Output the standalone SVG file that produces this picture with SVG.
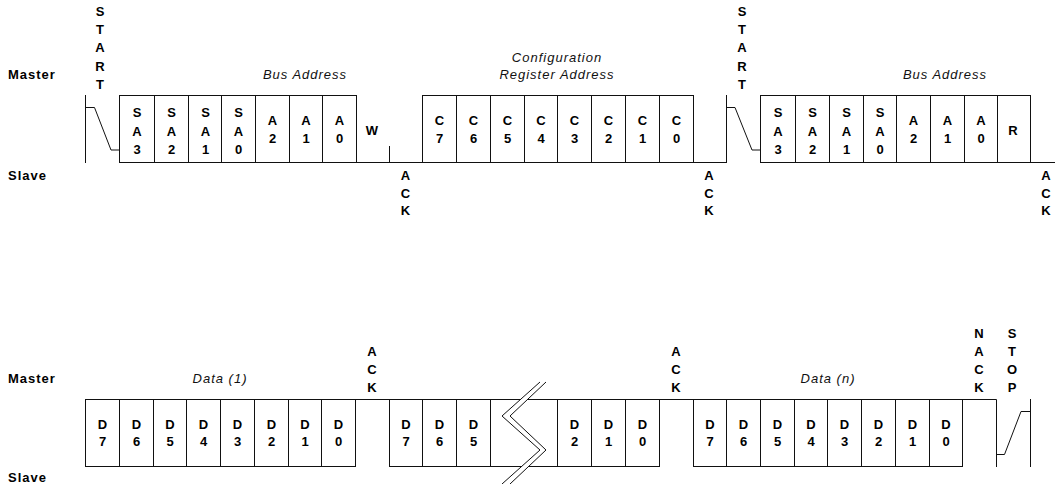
<svg xmlns="http://www.w3.org/2000/svg" width="1055" height="484" viewBox="0 0 1055 484">
<style>
.bg{fill:#fff}
.cell{fill:#fff;stroke:#111;stroke-width:1}
.w{fill:none;stroke:#111;stroke-width:1}
.t{font-family:"Liberation Sans",Arial,sans-serif;font-weight:bold;font-size:13px;fill:#000;text-anchor:middle}
.lbl{font-family:"Liberation Sans",Arial,sans-serif;font-weight:bold;font-size:13px;letter-spacing:1px;fill:#000}
.it{font-family:"Liberation Sans",Arial,sans-serif;font-style:italic;font-size:13px;letter-spacing:1px;fill:#111;text-anchor:middle}
</style>
<rect class="bg" x="0" y="0" width="1055" height="484"/>

<!-- side labels -->
<g id="labels">
<text class="lbl" x="8" y="79.3">Master</text>
<text class="lbl" x="8" y="180">Slave</text>
<text class="lbl" x="8" y="383.3">Master</text>
<text class="lbl" x="8" y="482">Slave</text>
<text class="it" x="305" y="79.3">Bus Address</text>
<text class="it" x="945" y="79.3">Bus Address</text>
<text class="it" x="557" y="61.7">Configuration</text>
<text class="it" x="557" y="79.3">Register Address</text>
<text class="it" x="220" y="383">Data (1)</text>
<text class="it" x="828" y="383">Data (n)</text>
</g>

<!-- connectors / waveform -->
<g id="connectors" class="w">
<path d="M85.5,95 V163 M85.5,107.5 H94.5 L111,150 H119.5"/>
<path d="M356.5,162.5 H422.5 M389.5,146 V162.5"/>
<path d="M693.5,162.5 H726.5 M726.5,95 V163 M726.5,107.5 H735 L752,150 H760.5"/>
<path d="M1030.5,162.5 H1055"/>
<path d="M355.5,399.5 H389.5"/>
<path d="M659.5,399.5 H693.5"/>
<path d="M962.5,399.5 H996.5 V467"/>
<path d="M996.5,454.5 H1004.5 L1021,411.5 H1030.5 M1030.5,399 V467"/>
</g>

<!-- condition labels -->
<g id="start1"><text class="t"><tspan x="100" y="15.7">S</tspan><tspan x="100" y="34">T</tspan><tspan x="100" y="52.4">A</tspan><tspan x="100" y="70.7">R</tspan><tspan x="100" y="89">T</tspan></text></g>
<g id="start2"><text class="t"><tspan x="742" y="15.7">S</tspan><tspan x="742" y="34">T</tspan><tspan x="742" y="52.4">A</tspan><tspan x="742" y="70.7">R</tspan><tspan x="742" y="89">T</tspan></text></g>
<g id="ack1"><text class="t"><tspan x="405.5" y="180.4">A</tspan><tspan x="405.5" y="197.9">C</tspan><tspan x="405.5" y="215.4">K</tspan></text></g>
<g id="ack2"><text class="t"><tspan x="709" y="180.4">A</tspan><tspan x="709" y="197.9">C</tspan><tspan x="709" y="215.4">K</tspan></text></g>
<g id="ack3"><text class="t"><tspan x="1046" y="180.4">A</tspan><tspan x="1046" y="197.9">C</tspan><tspan x="1046" y="215.4">K</tspan></text></g>
<g id="w"><text class="t" x="372" y="134.7">W</text></g>
<g id="ack4"><text class="t"><tspan x="372" y="356.4">A</tspan><tspan x="372" y="374">C</tspan><tspan x="372" y="392.4">K</tspan></text></g>
<g id="ack5"><text class="t"><tspan x="676" y="356.4">A</tspan><tspan x="676" y="374">C</tspan><tspan x="676" y="392.4">K</tspan></text></g>
<g id="nack"><text class="t"><tspan x="979" y="338">N</tspan><tspan x="979" y="356.4">A</tspan><tspan x="979" y="374">C</tspan><tspan x="979" y="392.4">K</tspan></text></g>
<g id="stop"><text class="t"><tspan x="1012" y="338">S</tspan><tspan x="1012" y="356.4">T</tspan><tspan x="1012" y="374">O</tspan><tspan x="1012" y="392.4">P</tspan></text></g>

<!-- Bus address 1 -->
<g id="sa3a"><rect class="cell" x="119.5" y="95.5" width="35" height="67"/><text class="t"><tspan x="137" y="117.2">S</tspan><tspan x="137" y="135.7">A</tspan><tspan x="137" y="154.2">3</tspan></text></g>
<g id="sa2a"><rect class="cell" x="154.5" y="95.5" width="34" height="67"/><text class="t"><tspan x="171.5" y="117.2">S</tspan><tspan x="171.5" y="135.7">A</tspan><tspan x="171.5" y="154.2">2</tspan></text></g>
<g id="sa1a"><rect class="cell" x="188.5" y="95.5" width="33" height="67"/><text class="t"><tspan x="205.5" y="117.2">S</tspan><tspan x="205.5" y="135.7">A</tspan><tspan x="205.5" y="154.2">1</tspan></text></g>
<g id="sa0a"><rect class="cell" x="221.5" y="95.5" width="34" height="67"/><text class="t"><tspan x="238.5" y="117.2">S</tspan><tspan x="238.5" y="135.7">A</tspan><tspan x="238.5" y="154.2">0</tspan></text></g>
<g id="a2a"><rect class="cell" x="255.5" y="95.5" width="34" height="67"/><text class="t"><tspan x="272.5" y="124.9">A</tspan><tspan x="272.5" y="142.5">2</tspan></text></g>
<g id="a1a"><rect class="cell" x="289.5" y="95.5" width="33" height="67"/><text class="t"><tspan x="306" y="124.9">A</tspan><tspan x="306" y="142.5">1</tspan></text></g>
<g id="a0a"><rect class="cell" x="322.5" y="95.5" width="34" height="67"/><text class="t"><tspan x="339.5" y="124.9">A</tspan><tspan x="339.5" y="142.5">0</tspan></text></g>

<!-- Configuration register -->
<g id="c7"><rect class="cell" x="422.5" y="95.5" width="34" height="67"/><text class="t"><tspan x="439.5" y="124.9">C</tspan><tspan x="439.5" y="142.5">7</tspan></text></g>
<g id="c6"><rect class="cell" x="456.5" y="95.5" width="34" height="67"/><text class="t"><tspan x="473.5" y="124.9">C</tspan><tspan x="473.5" y="142.5">6</tspan></text></g>
<g id="c5"><rect class="cell" x="490.5" y="95.5" width="34" height="67"/><text class="t"><tspan x="507.5" y="124.9">C</tspan><tspan x="507.5" y="142.5">5</tspan></text></g>
<g id="c4"><rect class="cell" x="524.5" y="95.5" width="33" height="67"/><text class="t"><tspan x="541" y="124.9">C</tspan><tspan x="541" y="142.5">4</tspan></text></g>
<g id="c3"><rect class="cell" x="557.5" y="95.5" width="34" height="67"/><text class="t"><tspan x="574.5" y="124.9">C</tspan><tspan x="574.5" y="142.5">3</tspan></text></g>
<g id="c2"><rect class="cell" x="591.5" y="95.5" width="34" height="67"/><text class="t"><tspan x="608.5" y="124.9">C</tspan><tspan x="608.5" y="142.5">2</tspan></text></g>
<g id="c1"><rect class="cell" x="625.5" y="95.5" width="34" height="67"/><text class="t"><tspan x="642.5" y="124.9">C</tspan><tspan x="642.5" y="142.5">1</tspan></text></g>
<g id="c0"><rect class="cell" x="659.5" y="95.5" width="34" height="67"/><text class="t"><tspan x="676.5" y="124.9">C</tspan><tspan x="676.5" y="142.5">0</tspan></text></g>

<!-- Bus address 2 -->
<g id="sa3b"><rect class="cell" x="760.5" y="95.5" width="35" height="67"/><text class="t"><tspan x="778" y="117.2">S</tspan><tspan x="778" y="135.7">A</tspan><tspan x="778" y="154.2">3</tspan></text></g>
<g id="sa2b"><rect class="cell" x="795.5" y="95.5" width="34" height="67"/><text class="t"><tspan x="812.5" y="117.2">S</tspan><tspan x="812.5" y="135.7">A</tspan><tspan x="812.5" y="154.2">2</tspan></text></g>
<g id="sa1b"><rect class="cell" x="829.5" y="95.5" width="34" height="67"/><text class="t"><tspan x="846.5" y="117.2">S</tspan><tspan x="846.5" y="135.7">A</tspan><tspan x="846.5" y="154.2">1</tspan></text></g>
<g id="sa0b"><rect class="cell" x="863.5" y="95.5" width="33" height="67"/><text class="t"><tspan x="880" y="117.2">S</tspan><tspan x="880" y="135.7">A</tspan><tspan x="880" y="154.2">0</tspan></text></g>
<g id="a2b"><rect class="cell" x="896.5" y="95.5" width="34" height="67"/><text class="t"><tspan x="913.5" y="124.9">A</tspan><tspan x="913.5" y="142.5">2</tspan></text></g>
<g id="a1b"><rect class="cell" x="930.5" y="95.5" width="34" height="67"/><text class="t"><tspan x="947.5" y="124.9">A</tspan><tspan x="947.5" y="142.5">1</tspan></text></g>
<g id="a0b"><rect class="cell" x="964.5" y="95.5" width="33" height="67"/><text class="t"><tspan x="981" y="124.9">A</tspan><tspan x="981" y="142.5">0</tspan></text></g>
<g id="r"><rect class="cell" x="997.5" y="95.5" width="33" height="67"/><text class="t" x="1013" y="134.7">R</text></g>

<!-- Data (1) -->
<g id="d7a"><rect class="cell" x="85.5" y="399.5" width="34" height="67"/><text class="t"><tspan x="102.5" y="428.7">D</tspan><tspan x="102.5" y="446.4">7</tspan></text></g>
<g id="d6a"><rect class="cell" x="119.5" y="399.5" width="34" height="67"/><text class="t"><tspan x="136.5" y="428.7">D</tspan><tspan x="136.5" y="446.4">6</tspan></text></g>
<g id="d5a"><rect class="cell" x="153.5" y="399.5" width="33" height="67"/><text class="t"><tspan x="170" y="428.7">D</tspan><tspan x="170" y="446.4">5</tspan></text></g>
<g id="d4a"><rect class="cell" x="186.5" y="399.5" width="34" height="67"/><text class="t"><tspan x="203.5" y="428.7">D</tspan><tspan x="203.5" y="446.4">4</tspan></text></g>
<g id="d3a"><rect class="cell" x="220.5" y="399.5" width="34" height="67"/><text class="t"><tspan x="237.5" y="428.7">D</tspan><tspan x="237.5" y="446.4">3</tspan></text></g>
<g id="d2a"><rect class="cell" x="254.5" y="399.5" width="34" height="67"/><text class="t"><tspan x="271.5" y="428.7">D</tspan><tspan x="271.5" y="446.4">2</tspan></text></g>
<g id="d1a"><rect class="cell" x="288.5" y="399.5" width="33" height="67"/><text class="t"><tspan x="305" y="428.7">D</tspan><tspan x="305" y="446.4">1</tspan></text></g>
<g id="d0a"><rect class="cell" x="321.5" y="399.5" width="34" height="67"/><text class="t"><tspan x="338.5" y="428.7">D</tspan><tspan x="338.5" y="446.4">0</tspan></text></g>

<!-- Data (2..n-1) -->
<g id="d7b"><rect class="cell" x="389.5" y="399.5" width="33" height="67"/><text class="t"><tspan x="406" y="428.7">D</tspan><tspan x="406" y="446.4">7</tspan></text></g>
<g id="d6b"><rect class="cell" x="422.5" y="399.5" width="34" height="67"/><text class="t"><tspan x="439.5" y="428.7">D</tspan><tspan x="439.5" y="446.4">6</tspan></text></g>
<g id="d5b"><rect class="cell" x="456.5" y="399.5" width="34" height="67"/><text class="t"><tspan x="473.5" y="428.7">D</tspan><tspan x="473.5" y="446.4">5</tspan></text></g>
<g id="gap"><rect class="cell" x="490.5" y="399.5" width="67" height="67"/>
<polygon fill="#fff" points="540,382 502,416 540,450 502,484 510,484 546,450 510,416 546,382"/>
<polyline class="w" points="540,382 502,416 540,450 502,484"/>
<polyline class="w" points="546,382 510,416 546,450 510,484"/></g>
<g id="d2b"><rect class="cell" x="557.5" y="399.5" width="34" height="67"/><text class="t"><tspan x="574.5" y="428.7">D</tspan><tspan x="574.5" y="446.4">2</tspan></text></g>
<g id="d1b"><rect class="cell" x="591.5" y="399.5" width="34" height="67"/><text class="t"><tspan x="608.5" y="428.7">D</tspan><tspan x="608.5" y="446.4">1</tspan></text></g>
<g id="d0b"><rect class="cell" x="625.5" y="399.5" width="34" height="67"/><text class="t"><tspan x="642.5" y="428.7">D</tspan><tspan x="642.5" y="446.4">0</tspan></text></g>

<!-- Data (n) -->
<g id="d7n"><rect class="cell" x="693.5" y="399.5" width="33" height="67"/><text class="t"><tspan x="710" y="428.7">D</tspan><tspan x="710" y="446.4">7</tspan></text></g>
<g id="d6n"><rect class="cell" x="726.5" y="399.5" width="34" height="67"/><text class="t"><tspan x="743.5" y="428.7">D</tspan><tspan x="743.5" y="446.4">6</tspan></text></g>
<g id="d5n"><rect class="cell" x="760.5" y="399.5" width="34" height="67"/><text class="t"><tspan x="777.5" y="428.7">D</tspan><tspan x="777.5" y="446.4">5</tspan></text></g>
<g id="d4n"><rect class="cell" x="794.5" y="399.5" width="33" height="67"/><text class="t"><tspan x="811" y="428.7">D</tspan><tspan x="811" y="446.4">4</tspan></text></g>
<g id="d3n"><rect class="cell" x="827.5" y="399.5" width="34" height="67"/><text class="t"><tspan x="844.5" y="428.7">D</tspan><tspan x="844.5" y="446.4">3</tspan></text></g>
<g id="d2n"><rect class="cell" x="861.5" y="399.5" width="34" height="67"/><text class="t"><tspan x="878.5" y="428.7">D</tspan><tspan x="878.5" y="446.4">2</tspan></text></g>
<g id="d1n"><rect class="cell" x="895.5" y="399.5" width="34" height="67"/><text class="t"><tspan x="912.5" y="428.7">D</tspan><tspan x="912.5" y="446.4">1</tspan></text></g>
<g id="d0n"><rect class="cell" x="929.5" y="399.5" width="33" height="67"/><text class="t"><tspan x="946" y="428.7">D</tspan><tspan x="946" y="446.4">0</tspan></text></g>
</svg>
